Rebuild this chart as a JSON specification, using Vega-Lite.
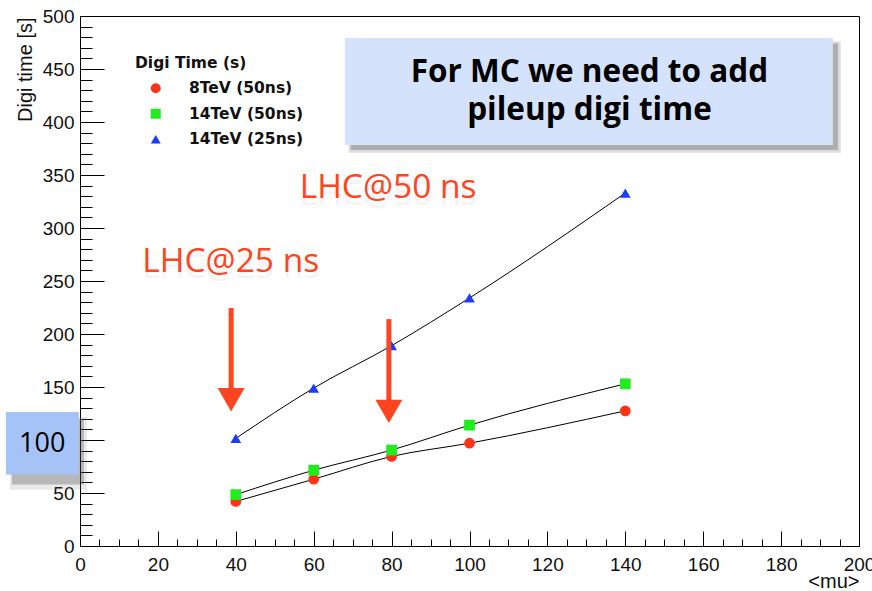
{
  "$schema": "https://vega.github.io/schema/vega-lite/v6.json",
  "width": 779,
  "height": 530,
  "autosize": {"type": "none"},
  "padding": {"left": 80, "top": 16, "right": 13, "bottom": 45},
  "background": "white",
  "config": {
    "view": {"stroke": "#000", "strokeWidth": 1},
    "font": "Liberation Sans",
    "axis": {"grid": false, "domainColor": "#000", "tickColor": "#000", "labelColor": "#111", "titleColor": "#111", "labelFont": "Liberation Sans", "titleFont": "Liberation Sans", "labelFontSize": 19, "titleFontSize": 20, "titleFontWeight": "normal"}
  },
  "resolve": {"axis": {"x": "independent", "y": "independent"}},
  "datasets": {
    "pts": [
      {"mu": 40, "time": 42, "series": "8TeV (50ns)"},
      {"mu": 60, "time": 63, "series": "8TeV (50ns)"},
      {"mu": 80, "time": 84.5, "series": "8TeV (50ns)"},
      {"mu": 100, "time": 97, "series": "8TeV (50ns)"},
      {"mu": 140, "time": 127.5, "series": "8TeV (50ns)"},
      {"mu": 40, "time": 48.5, "series": "14TeV (50ns)"},
      {"mu": 60, "time": 71.5, "series": "14TeV (50ns)"},
      {"mu": 80, "time": 90.5, "series": "14TeV (50ns)"},
      {"mu": 100, "time": 114, "series": "14TeV (50ns)"},
      {"mu": 140, "time": 153, "series": "14TeV (50ns)"},
      {"mu": 40, "time": 101.5, "series": "14TeV (25ns)"},
      {"mu": 60, "time": 149, "series": "14TeV (25ns)"},
      {"mu": 80, "time": 189, "series": "14TeV (25ns)"},
      {"mu": 100, "time": 234, "series": "14TeV (25ns)"},
      {"mu": 140, "time": 333, "series": "14TeV (25ns)"}
    ],
    "boxes": [
      {"name": "mcshadow", "x1": 69.0, "x2": 195.3, "y1": 371, "y2": 476, "fill": "#777777", "op": 0.25},
      {"name": "mcshadow", "x1": 69.5, "x2": 194.6, "y1": 373.5, "y2": 474, "fill": "#555555", "op": 0.35},
      {"name": "mc", "x1": 68.0, "x2": 193.3, "y1": 378.3, "y2": 479.2, "fill": "#d4e2fb", "op": 1},
      {"name": "hshadow", "x1": -18, "x2": 1.8, "y1": 53, "y2": 122, "fill": "#777777", "op": 0.16},
      {"name": "hshadow", "x1": -17.5, "x2": 1.0, "y1": 58, "y2": 120, "fill": "#444444", "op": 0.3},
      {"name": "h", "x1": -19, "x2": -0.3, "y1": 67.5, "y2": 126.4, "fill": "#a6c3f8", "op": 1}
    ],
    "mctext": [
      {"mu": 130.8, "time": 438, "t": "For MC we need to add"},
      {"mu": 130.8, "time": 401.9, "t": "pileup digi time"}
    ],
    "arrows": [
      {"mu": 38.8, "top": 224.5, "bot": 143, "head": 138},
      {"mu": 79.3, "top": 214, "bot": 133, "head": 127}
    ],
    "lhc": [
      {"mu": 38.7, "time": 258.8, "shadow": 252.5, "t": "LHC@25 ns"},
      {"mu": 79.1, "time": 328.3, "shadow": 322, "t": "LHC@50 ns"}
    ],
    "hundred": [
      {"mu": -9.7, "time": 96, "t": "100"}
    ]
  },
  "layer": [
    {
      "data": {"name": "boxes"},
      "transform": [{"filter": "datum.name === 'mcshadow' || datum.name === 'mc'"}],
      "mark": {"type": "rect"},
      "encoding": {
        "x": {"field": "x1", "type": "quantitative", "scale": {"domain": [0, 200], "nice": false, "zero": false},
          "axis": {
            "orient": "bottom",
            "title": "<mu>",
            "values": [0,20,40,60,80,100,120,140,160,180,200],
            "format": "d",
            "tickSize": -15,
            "labelPadding": 24,
            "labelBaseline": "top",
            "labelFlush": false,
            "labelOverlap": false,
            "titleAnchor": "end",
            "titleAlign": "right",
            "titleBaseline": "alphabetic",
            "titleX": 779,
            "titleY": 41
          }},
        "x2": {"field": "x2"},
        "y": {"field": "y1", "type": "quantitative", "scale": {"domain": [0, 500], "nice": false, "zero": false},
          "axis": {
            "orient": "left",
            "title": "Digi time [s]",
            "values": [0,50,100,150,200,250,300,350,400,450,500],
            "format": "d",
            "tickSize": -24,
            "labelPadding": 30,
            "labelFlush": false,
            "labelOverlap": false,
            "titleAngle": 270,
            "titleAlign": "right",
            "titleBaseline": "middle",
            "titleX": -55,
            "titleY": 1
          }},
        "y2": {"field": "y2"},
        "fill": {"field": "fill", "type": "nominal", "scale": null},
        "opacity": {"field": "op", "type": "quantitative", "scale": null}
      }
    },
    {
      "data": {"name": "mctext"},
      "mark": {"type": "text", "font": "Open Sans", "fontWeight": "bold", "fontSize": 31.5, "align": "center", "baseline": "alphabetic", "color": "#000"},
      "encoding": {
        "x": {"field": "mu", "type": "quantitative",
          "axis": {"orient": "bottom", "title": null, "labels": false, "domain": false, "tickSize": -7,
            "values": [5,10,15,25,30,35,45,50,55,65,70,75,85,90,95,105,110,115,125,130,135,145,150,155,165,170,175,185,190,195]}},
        "y": {"field": "time", "type": "quantitative",
          "axis": {"orient": "left", "title": null, "labels": false, "domain": false, "tickSize": -12,
            "values": [10,20,30,40,60,70,80,90,110,120,130,140,160,170,180,190,210,220,230,240,260,270,280,290,310,320,330,340,360,370,380,390,410,420,430,440,460,470,480,490]}},
        "text": {"field": "t"}
      }
    },
    {
      "data": {"name": "pts"},
      "mark": {"type": "line", "interpolate": "monotone", "color": "#000", "strokeWidth": 1},
      "encoding": {
        "x": {"field": "mu", "type": "quantitative", "axis": null},
        "y": {"field": "time", "type": "quantitative", "axis": null},
        "detail": {"field": "series"}
      }
    },
    {
      "data": {"name": "pts"},
      "mark": {"type": "point", "filled": true, "opacity": 1, "size": 115},
      "encoding": {
        "x": {"field": "mu", "type": "quantitative", "axis": null},
        "y": {"field": "time", "type": "quantitative", "axis": null},
        "color": {"field": "series", "type": "nominal",
          "scale": {"domain": ["8TeV (50ns)", "14TeV (50ns)", "14TeV (25ns)"], "range": ["#ff3318", "#1eee1e", "#1a3cff"]},
          "legend": {
            "title": "Digi Time (s)",
            "orient": "none",
            "legendX": 55,
            "legendY": 40,
            "titleFont": "DejaVu Sans",
            "titleFontWeight": "bold",
            "titleFontSize": 15.5,
            "titleColor": "#111",
            "titlePadding": 9,
            "labelFont": "DejaVu Sans",
            "labelFontWeight": "bold",
            "labelFontSize": 15.5,
            "labelColor": "#111",
            "symbolSize": 100,
            "symbolOffset": 13,
            "labelOffset": 25.5,
            "rowPadding": 8.5,
            "symbolStrokeWidth": 0
          }},
        "shape": {"field": "series", "type": "nominal",
          "scale": {"domain": ["8TeV (50ns)", "14TeV (50ns)", "14TeV (25ns)"], "range": ["circle", "square", "triangle-up"]}}
      }
    },
    {
      "data": {"name": "arrows"},
      "mark": {"type": "rule", "color": "#ff4420", "strokeWidth": 5},
      "encoding": {
        "x": {"field": "mu", "type": "quantitative", "axis": null},
        "y": {"field": "top", "type": "quantitative", "axis": null},
        "y2": {"field": "bot"}
      }
    },
    {
      "data": {"name": "arrows"},
      "mark": {"type": "point", "shape": "triangle-down", "filled": true, "opacity": 1, "color": "#ff4420", "size": 729},
      "encoding": {
        "x": {"field": "mu", "type": "quantitative", "axis": null},
        "y": {"field": "head", "type": "quantitative", "axis": null}
      }
    },
    {
      "data": {"name": "lhc"},
      "mark": {"type": "text", "font": "Open Sans", "fontSize": 33.5, "align": "center", "baseline": "alphabetic", "color": "#999999", "opacity": 0.1, "stroke": "#999999", "strokeWidth": 6, "strokeOpacity": 0.08},
      "encoding": {
        "x": {"field": "mu", "type": "quantitative", "axis": null},
        "y": {"field": "shadow", "type": "quantitative", "axis": null},
        "text": {"field": "t"}
      }
    },
    {
      "data": {"name": "lhc"},
      "mark": {"type": "text", "font": "Open Sans", "fontSize": 33.5, "align": "center", "baseline": "alphabetic", "color": "#ff4420"},
      "encoding": {
        "x": {"field": "mu", "type": "quantitative", "axis": null},
        "y": {"field": "time", "type": "quantitative", "axis": null},
        "text": {"field": "t"}
      }
    },
    {
      "data": {"name": "boxes"},
      "transform": [{"filter": "datum.name === 'hshadow' || datum.name === 'h'"}],
      "mark": {"type": "rect"},
      "encoding": {
        "x": {"field": "x1", "type": "quantitative", "axis": null},
        "x2": {"field": "x2"},
        "y": {"field": "y1", "type": "quantitative", "axis": null},
        "y2": {"field": "y2"},
        "fill": {"field": "fill", "type": "nominal", "scale": null},
        "opacity": {"field": "op", "type": "quantitative", "scale": null}
      }
    },
    {
      "data": {"name": "hundred"},
      "mark": {"type": "text", "font": "Open Sans", "fontSize": 27, "align": "center", "baseline": "middle", "color": "#000"},
      "encoding": {
        "x": {"field": "mu", "type": "quantitative", "axis": null},
        "y": {"field": "time", "type": "quantitative", "axis": null},
        "text": {"field": "t"}
      }
    }
  ]
}
